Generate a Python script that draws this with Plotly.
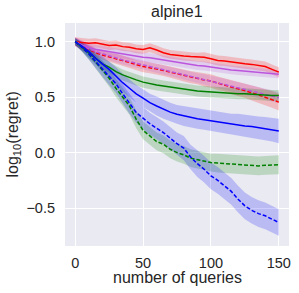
import plotly.graph_objects as go

queries = list(range(0, 151, 5))

red_solid = [1.00, 0.995, 0.985, 0.99, 0.975, 0.965, 0.97, 0.955, 0.95, 0.935, 0.93, 0.945, 0.925, 0.90, 0.885, 0.875,
             0.87, 0.865, 0.86, 0.86, 0.845, 0.83, 0.825, 0.815, 0.805, 0.80, 0.795, 0.785, 0.775, 0.75, 0.725]
red_solid_sd = [0.04, 0.04, 0.04, 0.04, 0.04, 0.04, 0.04, 0.04, 0.04, 0.04, 0.04, 0.04, 0.04, 0.04, 0.04, 0.04,
                0.04, 0.04, 0.04, 0.045, 0.045, 0.045, 0.045, 0.045, 0.045, 0.045, 0.045, 0.045, 0.045, 0.045, 0.045]

violet_solid = [1.00, 0.97, 0.95, 0.93, 0.92, 0.91, 0.90, 0.885, 0.875, 0.865, 0.86, 0.855, 0.845, 0.835, 0.82, 0.81,
                0.80, 0.795, 0.785, 0.78, 0.77, 0.76, 0.755, 0.745, 0.74, 0.735, 0.73, 0.725, 0.72, 0.715, 0.705]
violet_solid_sd = [0.04, 0.04, 0.04, 0.04, 0.04, 0.04, 0.04, 0.04, 0.04, 0.04, 0.04, 0.04, 0.04, 0.04, 0.04, 0.04,
                   0.04, 0.04, 0.04, 0.04, 0.04, 0.04, 0.04, 0.04, 0.04, 0.04, 0.04, 0.04, 0.04, 0.035, 0.035]

red_dashed = [1.00, 0.96, 0.93, 0.90, 0.88, 0.86, 0.845, 0.83, 0.81, 0.79, 0.775, 0.765, 0.755, 0.74, 0.725, 0.71,
              0.695, 0.68, 0.67, 0.655, 0.645, 0.625, 0.61, 0.59, 0.575, 0.56, 0.54, 0.52, 0.50, 0.48, 0.455]
red_dashed_sd = [0.04, 0.04, 0.04, 0.04, 0.04, 0.04, 0.045, 0.045, 0.045, 0.045, 0.05, 0.05, 0.05, 0.05, 0.05, 0.055,
                 0.055, 0.055, 0.055, 0.06, 0.06, 0.06, 0.06, 0.065, 0.065, 0.065, 0.07, 0.07, 0.07, 0.075, 0.075]

violet_dashed = [1.00, 0.965, 0.935, 0.91, 0.89, 0.87, 0.85, 0.835, 0.82, 0.805, 0.79, 0.775, 0.76, 0.745, 0.73, 0.715,
                 0.70, 0.685, 0.67, 0.66, 0.645, 0.63, 0.615, 0.60, 0.585, 0.57, 0.555, 0.54, 0.525, 0.51, 0.495]
violet_dashed_sd = [0.04, 0.04, 0.04, 0.04, 0.04, 0.04, 0.04, 0.04, 0.04, 0.04, 0.04, 0.045, 0.045, 0.045, 0.045, 0.045,
                    0.045, 0.045, 0.045, 0.045, 0.05, 0.05, 0.05, 0.05, 0.05, 0.05, 0.05, 0.05, 0.05, 0.05, 0.05]

green_solid = [1.00, 0.95, 0.90, 0.85, 0.80, 0.77, 0.73, 0.70, 0.675, 0.655, 0.635, 0.62, 0.61, 0.60, 0.59, 0.58,
               0.57, 0.565, 0.555, 0.55, 0.545, 0.54, 0.54, 0.535, 0.53, 0.53, 0.525, 0.52, 0.52, 0.515, 0.515]
green_solid_sd = [0.03, 0.04, 0.045, 0.05, 0.05, 0.05, 0.05, 0.05, 0.05, 0.05, 0.05, 0.05, 0.05, 0.05, 0.05, 0.05,
                  0.05, 0.05, 0.05, 0.05, 0.05, 0.05, 0.05, 0.05, 0.05, 0.05, 0.05, 0.05, 0.05, 0.05, 0.05]

blue_solid = [1.00, 0.96, 0.91, 0.85, 0.80, 0.75, 0.69, 0.63, 0.58, 0.53, 0.49, 0.45, 0.42, 0.39, 0.365, 0.345,
              0.33, 0.315, 0.305, 0.295, 0.285, 0.275, 0.265, 0.255, 0.25, 0.24, 0.235, 0.225, 0.215, 0.205, 0.195]
blue_solid_sd = [0.03, 0.04, 0.05, 0.06, 0.07, 0.07, 0.08, 0.08, 0.08, 0.08, 0.08, 0.08, 0.085, 0.085, 0.085, 0.085,
                 0.09, 0.09, 0.09, 0.09, 0.09, 0.095, 0.095, 0.095, 0.1, 0.1, 0.1, 0.1, 0.105, 0.105, 0.11]

green_dashed = [1.00, 0.95, 0.89, 0.82, 0.75, 0.67, 0.58, 0.50, 0.42, 0.30, 0.20, 0.15, 0.10, 0.075, 0.03, 0.00,
                -0.02, -0.05, -0.065, -0.08, -0.09, -0.095, -0.10, -0.105, -0.11, -0.115, -0.115, -0.12, -0.115, -0.11, -0.11]
green_dashed_sd = [0.03, 0.04, 0.05, 0.06, 0.07, 0.075, 0.08, 0.08, 0.08, 0.08, 0.08, 0.08, 0.08, 0.08, 0.08, 0.08,
                   0.08, 0.08, 0.08, 0.08, 0.08, 0.085, 0.085, 0.085, 0.085, 0.085, 0.085, 0.085, 0.085, 0.085, 0.085]

blue_dashed = [1.00, 0.95, 0.89, 0.82, 0.76, 0.69, 0.62, 0.53, 0.44, 0.36, 0.31, 0.26, 0.22, 0.18, 0.13, 0.08,
               0.04, -0.04, -0.10, -0.15, -0.21, -0.25, -0.30, -0.35, -0.42, -0.48, -0.52, -0.55, -0.57, -0.60, -0.63]
blue_dashed_sd = [0.03, 0.04, 0.05, 0.06, 0.07, 0.08, 0.08, 0.09, 0.09, 0.09, 0.1, 0.1, 0.1, 0.1, 0.1, 0.1,
                  0.11, 0.11, 0.12, 0.12, 0.12, 0.12, 0.12, 0.12, 0.12, 0.12, 0.12, 0.12, 0.12, 0.12, 0.12]

x_ticks = [0, 50, 100, 150]
y_ticks = [-0.5, 0.0, 0.5, 1.0]
y_tick_labels = ["\u22120.5", "0.0", "0.5", "1.0"]

series = [
    (red_solid, red_solid_sd, "#ff0000", "solid", "rgba(255,0,0,0.2)"),
    (violet_solid, violet_solid_sd, "#bb55dd", "solid", "rgba(187,85,221,0.2)"),
    (red_dashed, red_dashed_sd, "#ff0000", "dashed", "rgba(255,0,0,0.2)"),
    (violet_dashed, violet_dashed_sd, "#bb55dd", "dashed", "rgba(187,85,221,0.2)"),
    (green_solid, green_solid_sd, "#008000", "solid", "rgba(0,128,0,0.2)"),
    (blue_solid, blue_solid_sd, "#0000ff", "solid", "rgba(0,0,255,0.2)"),
    (green_dashed, green_dashed_sd, "#008000", "dashed", "rgba(0,128,0,0.2)"),
    (blue_dashed, blue_dashed_sd, "#0000ff", "dashed", "rgba(0,0,255,0.2)"),
]

fig = go.Figure()
for mean, sd, color, style, fill in series:
    lo = [m - s for m, s in zip(mean, sd)]
    hi = [m + s for m, s in zip(mean, sd)]
    fig.add_trace(go.Scatter(x=queries, y=lo, mode="lines", line=dict(width=0), showlegend=False, hoverinfo="skip"))
    fig.add_trace(go.Scatter(x=queries, y=hi, mode="lines", line=dict(width=0), fill="tonexty",
                             fillcolor=fill, showlegend=False, hoverinfo="skip"))
for mean, sd, color, style, fill in series:
    fig.add_trace(go.Scatter(x=queries, y=mean, mode="lines",
                             line=dict(color=color, width=1.5, dash="4px,2px" if style == "dashed" else "solid"),
                             showlegend=False))

font_family = "Liberation Sans, Arial, sans-serif"
text_color = "#262626"
fig.update_layout(
    width=299, height=293,
    margin=dict(l=65, r=10, t=23, b=47),
    paper_bgcolor="white", plot_bgcolor="#eaeaf2",
    font=dict(family=font_family, size=14.5, color=text_color),
    annotations=[
        dict(text="alpine1", xref="paper", yref="paper", x=0.5, y=1, xanchor="center", yanchor="bottom",
             yshift=1, showarrow=False, font=dict(size=16, color=text_color)),
        dict(text="number of queries", xref="paper", yref="paper", x=0.5, y=0, xanchor="center", yanchor="middle",
             yshift=-31, showarrow=False, font=dict(size=16, color=text_color)),
        dict(text="log<sub>10</sub>(regret)", xref="paper", yref="paper", x=0, y=0.5, xanchor="center",
             yanchor="middle", xshift=-52, textangle=-90, showarrow=False, font=dict(size=16, color=text_color)),
    ],
)
fig.update_xaxes(range=[-7.5, 157.5], tickvals=x_ticks, showgrid=True, gridcolor="white", gridwidth=1.2,
                 zeroline=False, showline=False, ticks="", ticklabelstandoff=6, automargin=False,
                 tickfont=dict(size=14.5))
fig.update_yaxes(range=[-0.842, 1.168], tickvals=y_ticks, ticktext=y_tick_labels,
                 showgrid=True, gridcolor="white", gridwidth=1.2,
                 zeroline=False, showline=False, ticks="", ticklabelstandoff=9, automargin=False,
                 tickfont=dict(size=14.5))

fig.write_html("out.html", config={"displayModeBar": False},
               post_script="document.body.style.margin='0';")
